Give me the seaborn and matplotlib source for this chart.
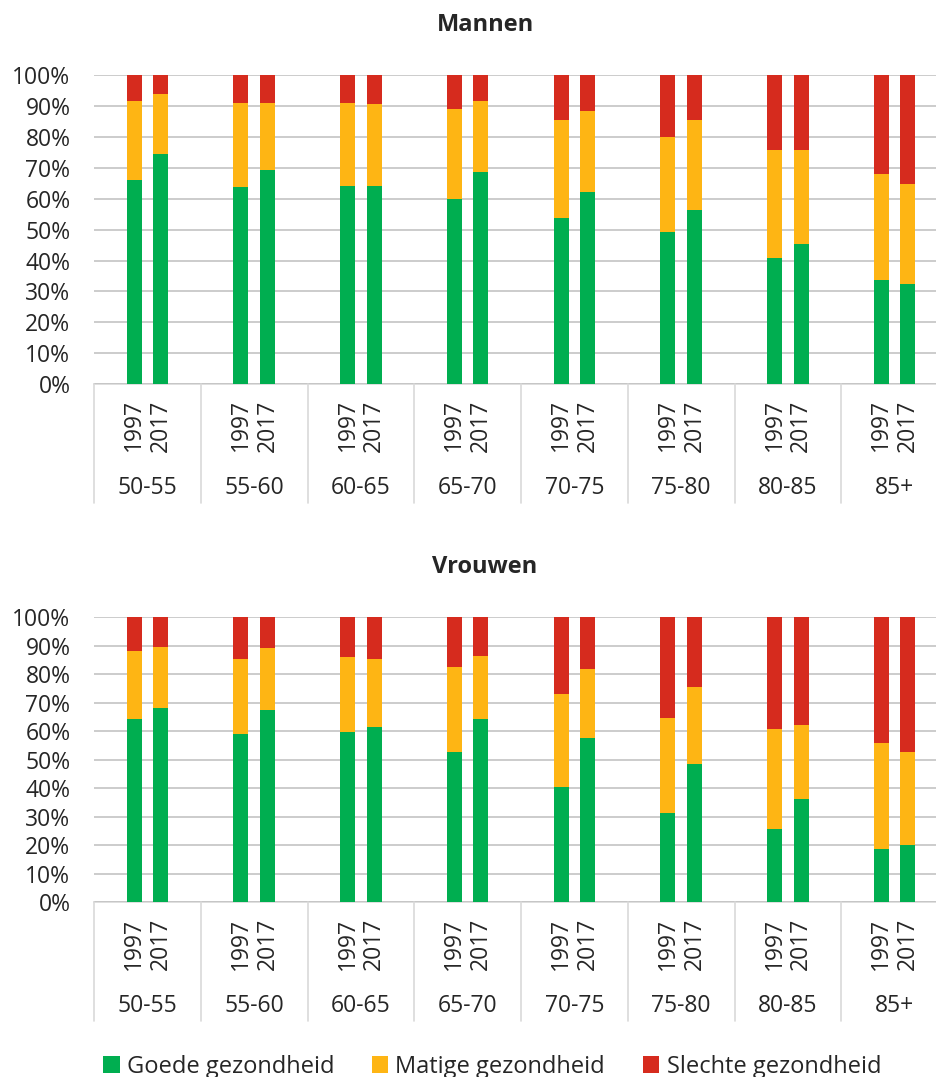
import numpy as np
import pandas as pd
import seaborn as sns
import matplotlib.pyplot as plt
import matplotlib.transforms as mtransforms
from matplotlib.patches import Patch

# %% data (percentages)

groups = ["50-55", "55-60", "60-65", "65-70", "70-75", "75-80", "80-85", "85+"]
years = ["1997", "2017"]

mannen_goed_1997 = [66.1, 63.8, 64.1, 59.9, 53.9, 49.4, 40.9, 33.8]
mannen_goed_2017 = [74.5, 69.3, 64.3, 68.7, 62.2, 56.4, 45.5, 32.4]
mannen_matig_1997 = [25.5, 27.1, 26.8, 29.1, 31.7, 30.6, 35.0, 34.3]
mannen_matig_2017 = [19.6, 21.8, 26.5, 23.1, 26.1, 29.2, 30.4, 32.3]
mannen_slecht_1997 = [8.4, 9.1, 9.1, 11.0, 14.4, 20.0, 24.1, 31.9]
mannen_slecht_2017 = [5.9, 8.9, 9.2, 8.2, 11.7, 14.4, 24.1, 35.3]

vrouwen_goed_1997 = [64.3, 59.2, 59.8, 52.7, 40.6, 31.2, 25.8, 18.8]
vrouwen_goed_2017 = [68.3, 67.6, 61.5, 64.3, 57.8, 48.4, 36.1, 20.0]
vrouwen_matig_1997 = [24.0, 26.3, 26.4, 29.8, 32.6, 33.6, 35.0, 37.1]
vrouwen_matig_2017 = [21.3, 21.6, 23.9, 22.1, 24.2, 27.2, 26.0, 32.7]
vrouwen_slecht_1997 = [11.7, 14.5, 13.8, 17.5, 26.8, 35.2, 39.2, 44.1]
vrouwen_slecht_2017 = [10.4, 10.8, 14.6, 13.6, 18.0, 24.4, 37.9, 47.3]

labels = ["Goede gezondheid", "Matige gezondheid", "Slechte gezondheid"]
colors = ["#00AE50", "#FEB514", "#D62B1E"]


def make_frame(goed, matig, slecht):
    # long table: one row per group and year
    rows = []
    for _k, _y in enumerate(years):
        for _i, _grp in enumerate(groups):
            rows.append({"groep": _grp, "jaar": _y,
                         "goed": goed[_k][_i], "matig": matig[_k][_i],
                         "slecht": slecht[_k][_i]})
    df = pd.DataFrame(rows)
    # cumulative tops for stacking
    df["top_goed"] = df["goed"]
    df["top_matig"] = df["goed"] + df["matig"]
    df["top_slecht"] = df["goed"] + df["matig"] + df["slecht"]
    return df


mannen = make_frame((mannen_goed_1997, mannen_goed_2017),
                    (mannen_matig_1997, mannen_matig_2017),
                    (mannen_slecht_1997, mannen_slecht_2017))
vrouwen = make_frame((vrouwen_goed_1997, vrouwen_goed_2017),
                     (vrouwen_matig_1997, vrouwen_matig_2017),
                     (vrouwen_slecht_1997, vrouwen_slecht_2017))

# %% style

sns.set_theme(style="white")
plt.rcParams["font.family"] = ["Open Sans", "DejaVu Sans"]
FS = 16.5

W, H = 936, 1077
fig = plt.figure(figsize=(W / 100, H / 100), dpi=100)


def draw_panel(df, top_px, bottom_px, title, title_px):
    left_px, right_px = 94, 948
    ax = fig.add_axes([left_px / W, 1 - bottom_px / H,
                       (right_px - left_px) / W, (bottom_px - top_px) / H])
    # draw from the full stack downwards so the lower parts overlay
    for _col, _c in zip(["top_slecht", "top_matig", "top_goed"], colors[::-1]):
        sns.barplot(data=df, x="groep", y=_col, hue="jaar", order=groups,
                    hue_order=years, palette={"1997": _c, "2017": _c},
                    saturation=1, width=0.5, gap=0.44, linewidth=0,
                    legend=False, errorbar=None, ax=ax)
    ax.set_xlim(-0.5, 7.5)
    ax.set_ylim(0, 100)
    ax.set_yticks(np.arange(0, 101, 10))
    ax.set_yticklabels([f"{v}%" for v in range(0, 101, 10)], fontsize=FS)
    ax.yaxis.grid(True, color="#BFBFBF", linewidth=1.1)
    ax.set_axisbelow(True)
    for _s in ["top", "right", "left"]:
        ax.spines[_s].set_visible(False)
    ax.spines["bottom"].set_color("#D9D9D9")
    ax.spines["bottom"].set_linewidth(1.2)
    ax.spines["bottom"].set_zorder(0.5)
    # year labels under each bar
    pos = [i + d for i in range(len(groups)) for d in (-0.125, 0.125)]
    ax.set_xticks(pos)
    ax.set_xticklabels(years * len(groups), rotation=90, fontsize=FS)
    ax.tick_params(axis="x", length=0, pad=11)
    ax.tick_params(axis="y", length=0, pad=17)
    ax.set_xlabel("")
    ax.set_ylabel("")
    # group separators and group labels
    h_ax = bottom_px - top_px
    trans = mtransforms.blended_transform_factory(ax.transData, ax.transAxes)
    for _b in np.arange(-0.5, len(groups)):
        ax.plot([_b, _b], [0, -119 / h_ax], transform=trans, color="#D9D9D9",
                linewidth=1.2, clip_on=False)
    for _i, _g in enumerate(groups):
        ax.text(_i, -104 / h_ax, _g, transform=trans, ha="center",
                va="center", fontsize=FS)
    fig.text(485 / W, 1 - title_px / H, title, ha="center", va="center",
             fontsize=17, fontweight="bold")
    return ax


draw_panel(mannen, 75.3, 384, "Mannen", 25)
draw_panel(vrouwen, 617.3, 902.3, "Vrouwen", 567)

# legend
handles = [Patch(facecolor=_c, edgecolor="none", label=_l)
           for _c, _l in zip(colors, labels)]
fig.legend(handles=handles, loc="center", bbox_to_anchor=(492 / W, 1 - 1067 / H),
           ncol=3, frameon=False, fontsize=17, handlelength=0.7,
           handleheight=0.7, handletextpad=0.3, columnspacing=1.6,
           borderaxespad=0, borderpad=0)

# save
fig.savefig("out.png", dpi=100)
